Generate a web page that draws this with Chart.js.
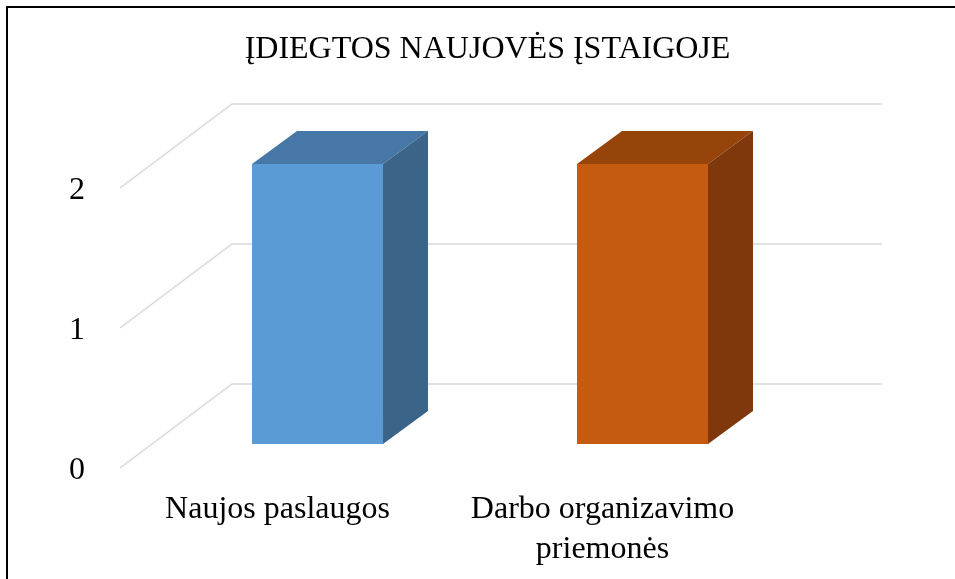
<!DOCTYPE html>
<html>
<head>
<meta charset="utf-8">
<title>Įdiegtos naujovės įstaigoje</title>
<script src="https://cdn.jsdelivr.net/npm/chart.js@4"></script>
<style>
  body { margin: 0; background: #ffffff; }
  canvas { display: block; }
</style>
</head>
<body>
<canvas id="myChart" width="955" height="579"></canvas>
<script>
'use strict';

// global variables
let chartTitle = 'ĮDIEGTOS NAUJOVĖS ĮSTAIGOJE';
let categoryLabels = [['Naujos paslaugos'], ['Darbo organizavimo', 'priemonės']];
let innovationCounts = [2, 2];
let yTicks = [0, 1, 2];

let frontColors = ['#5b9bd5', '#c55a11'];
let topColors = ['#4677a6', '#964409'];
let sideColors = ['#3a6589', '#7f380b'];

let fontFamily = '"Liberation Serif", "Times New Roman", serif';

// perspective offsets
let barDepthX = 45;
let barDepthY = -33;
let wallFrontX = -35;
let wallFrontY = 24;
let wallBackX = 77;
let wallBackY = -60;

let ctx = document.getElementById('myChart');

// draws the floor / back wall lines behind the bars
let wallPlugin = {
  id: 'wallPlugin',
  beforeDatasetsDraw(chart) {
    let c = chart.ctx;
    let area = chart.chartArea;
    let yScale = chart.scales.y;
    c.save();
    c.strokeStyle = '#d9d9d9';
    c.lineWidth = 1.5;
    for (let i = 0; i < yTicks.length; i++) {
      let y = yScale.getPixelForValue(yTicks[i]);
      c.beginPath();
      c.moveTo(area.left + wallFrontX, y + wallFrontY);
      c.lineTo(area.left + wallBackX, y + wallBackY);
      c.lineTo(area.right + wallBackX, y + wallBackY);
      c.stroke();
    }
    c.restore();
  },
  afterDatasetsDraw(chart) {
    let c = chart.ctx;
    let bars = chart.getDatasetMeta(0).data;
    c.save();
    for (let i = 0; i < bars.length; i++) {
      let p = bars[i].getProps(['x', 'y', 'base', 'width'], true);
      let left = p.x - p.width / 2;
      let right = p.x + p.width / 2;
      // top face
      c.fillStyle = topColors[i];
      c.beginPath();
      c.moveTo(left, p.y);
      c.lineTo(left + barDepthX, p.y + barDepthY);
      c.lineTo(right + barDepthX, p.y + barDepthY);
      c.lineTo(right, p.y);
      c.closePath();
      c.fill();
      // side face
      c.fillStyle = sideColors[i];
      c.beginPath();
      c.moveTo(right, p.y);
      c.lineTo(right + barDepthX, p.y + barDepthY);
      c.lineTo(right + barDepthX, p.base + barDepthY);
      c.lineTo(right, p.base);
      c.closePath();
      c.fill();
    }
    c.restore();
  },
  afterDraw(chart) {
    // frame of the picture (only top and left are visible)
    let c = chart.ctx;
    c.save();
    c.strokeStyle = '#000000';
    c.lineWidth = 2;
    c.beginPath();
    c.moveTo(7, chart.height + 5);
    c.lineTo(7, 7);
    c.lineTo(chart.width + 5, 7);
    c.stroke();
    c.restore();
  }
};

let myChartObj = {
  type: 'bar',
  data: {
    labels: categoryLabels,
    datasets: [{
      label: 'Įdiegtos naujovės',
      data: innovationCounts,
      backgroundColor: frontColors,
      borderWidth: 0,
      categoryPercentage: 1,
      barPercentage: 0.403
    }]
  },
  options: {
    responsive: false,
    animation: false,
    devicePixelRatio: 1,
    layout: {
      padding: { left: 20, right: 0, top: 0, bottom: 0 }
    },
    plugins: {
      legend: { display: false },
      tooltip: { enabled: false },
      title: {
        display: true,
        text: chartTitle,
        color: '#000000',
        font: { family: fontFamily, size: 32, weight: 'normal', lineHeight: 1.2 },
        padding: { top: 30, bottom: 95.6 }
      }
    },
    scales: {
      x: {
        grid: { display: false },
        border: { display: false },
        ticks: {
          color: '#000000',
          font: { family: fontFamily, size: 32, lineHeight: 1.25 },
          padding: 38,
          labelOffset: -40,
          maxRotation: 0,
          autoSkip: false
        },
        afterFit(scale) {
          scale.height = 135;
        }
      },
      y: {
        min: 0,
        max: 2,
        grid: { display: false },
        border: { display: false },
        afterBuildTicks(scale) {
          scale.ticks = yTicks.map(v => ({ value: v }));
        },
        ticks: {
          color: '#000000',
          font: { family: fontFamily, size: 32 },
          padding: 62,
          labelOffset: 27
        },
        afterFit(scale) {
          scale.width = 135;
        }
      },
      // empty right axis that only keeps room for the back wall
      yRight: {
        position: 'right',
        grid: { display: false },
        border: { display: false },
        ticks: { display: false },
        afterFit(scale) {
          scale.width = 150;
        }
      }
    }
  },
  plugins: [wallPlugin]
};

new Chart(ctx, myChartObj);
</script>
</body>
</html>
